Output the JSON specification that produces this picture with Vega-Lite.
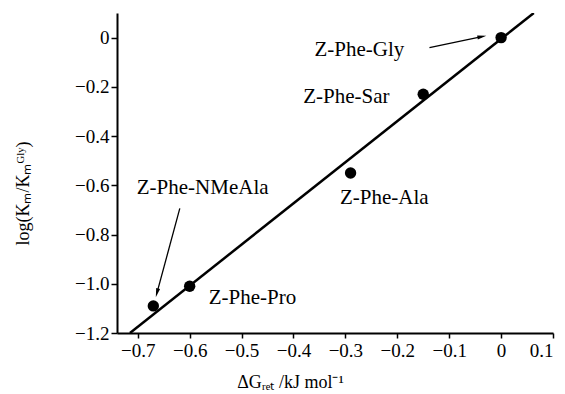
{
  "$schema": "https://vega.github.io/schema/vega-lite/v6.json",
  "width": 436,
  "height": 320,
  "autosize": "none",
  "padding": {"left": 117, "top": 13, "right": 12, "bottom": 61},
  "background": "white",
  "config": {
    "view": {"stroke": null},
    "font": "Liberation Serif",
    "text": {"font": "Liberation Serif"},
    "axis": {"grid": false, "domainColor": "black", "domainWidth": 2, "tickColor": "black", "tickWidth": 1.5, "labelColor": "black", "titleColor": "black", "labelFont": "Liberation Serif", "titleFont": "Liberation Serif", "labelFontSize": 19, "titleFontSize": 18, "titleFontWeight": "normal"}
  },
  "datasets": {
    "points": [
      {"name": "Z-Phe-Gly", "dG": 0.0, "logK": 0.0},
      {"name": "Z-Phe-Sar", "dG": -0.15, "logK": -0.23},
      {"name": "Z-Phe-Ala", "dG": -0.29, "logK": -0.55},
      {"name": "Z-Phe-Pro", "dG": -0.6, "logK": -1.01},
      {"name": "Z-Phe-NMeAla", "dG": -0.67, "logK": -1.09}
    ],
    "fit": [
      {"dG": -0.715, "logK": -1.2},
      {"dG": 0.063, "logK": 0.1}
    ],
    "labels": [
      {"text": "Z-Phe-Gly", "lx": -0.273, "ly": -0.049},
      {"text": "Z-Phe-Sar", "lx": -0.298, "ly": -0.241},
      {"text": "Z-Phe-NMeAla", "lx": -0.575, "ly": -0.612},
      {"text": "Z-Phe-Ala", "lx": -0.225, "ly": -0.653},
      {"text": "Z-Phe-Pro", "lx": -0.479, "ly": -1.057}
    ],
    "arrows": [
      {"x1": -0.138, "y1": -0.041, "x2": -0.037, "y2": 0.004, "angle": 80},
      {"x1": -0.619, "y1": -0.694, "x2": -0.663, "y2": -1.037, "angle": 195}
    ]
  },
  "layer": [
    {
      "data": {"name": "fit"},
      "mark": {"type": "line", "color": "black", "strokeWidth": 2.5, "clip": true},
      "encoding": {
        "x": {
          "field": "dG", "type": "quantitative",
          "scale": {"domain": [-0.74, 0.1], "nice": false, "zero": false},
          "axis": {
            "values": [-0.7, -0.65, -0.6, -0.55, -0.5, -0.45, -0.4, -0.35, -0.3, -0.25, -0.2, -0.15, -0.1, -0.05, 0, 0.05, 0.1],
            "labelExpr": "abs(round(datum.value*100)) % 10 == 0 ? (datum.value == 0 ? '0' : replace(format(datum.value, '.1f'), '-', '−')) : ''",
            "tickSize": {"condition": {"test": "abs(round(datum.value*100)) % 10 == 0", "value": 5}, "value": 3},
            "labelPadding": 3,
            "labelFont": "Liberation Serif",
            "titleFont": "Liberation Serif",
            "title": "ΔGᵣₑₜ /kJ mol⁻¹",
            "titleX": 173,
            "titleY": 49,
            "titleBaseline": "middle",
            "titleAnchor": null,
            "titleAlign": "center"
          }
        },
        "y": {
          "field": "logK", "type": "quantitative",
          "scale": {"domain": [-1.2, 0.1], "nice": false, "zero": false},
          "axis": {
            "values": [-1.2, -1.1, -1.0, -0.9, -0.8, -0.7, -0.6, -0.5, -0.4, -0.3, -0.2, -0.1, 0, 0.1],
            "labelExpr": "abs(round(datum.value*10)) % 2 == 0 && datum.value < 0.05 ? (datum.value == 0 ? '0' : replace(format(datum.value, '.1f'), '-', '−')) : ''",
            "tickSize": {"condition": {"test": "abs(round(datum.value*10)) % 2 == 0", "value": 6}, "value": 3},
            "labelPadding": 2,
            "labelFont": "Liberation Serif",
            "titleFont": "Liberation Serif",
            "title": "log(Kₘ/Kₘᴳˡʸ)",
            "titleX": -94,
            "titleY": 180,
            "titleAngle": 270,
            "titleBaseline": "middle",
            "titleAlign": "center",
            "titleAnchor": null
          }
        }
      }
    },
    {
      "data": {"name": "points"},
      "mark": {"type": "point", "shape": "circle", "filled": true, "color": "black", "opacity": 1, "size": 130},
      "encoding": {
        "x": {"field": "dG", "type": "quantitative"},
        "y": {"field": "logK", "type": "quantitative"}
      }
    },
    {
      "data": {"name": "labels"},
      "mark": {"type": "text", "font": "Liberation Serif", "fontSize": 21, "color": "black", "align": "center", "baseline": "middle"},
      "encoding": {
        "x": {"field": "lx", "type": "quantitative"},
        "y": {"field": "ly", "type": "quantitative"},
        "text": {"field": "text"}
      }
    },
    {
      "data": {"name": "arrows"},
      "mark": {"type": "rule", "color": "black", "strokeWidth": 1.3},
      "encoding": {
        "x": {"field": "x1", "type": "quantitative"},
        "y": {"field": "y1", "type": "quantitative"},
        "x2": {"field": "x2"},
        "y2": {"field": "y2"}
      }
    },
    {
      "data": {"name": "arrows"},
      "mark": {"type": "point", "shape": "M0,-1L0.45,1L-0.45,1Z", "filled": true, "color": "black", "opacity": 1, "size": 80},
      "encoding": {
        "x": {"field": "x2", "type": "quantitative"},
        "y": {"field": "y2", "type": "quantitative"},
        "angle": {"field": "angle", "type": "quantitative", "scale": null}
      }
    }
  ]
}
